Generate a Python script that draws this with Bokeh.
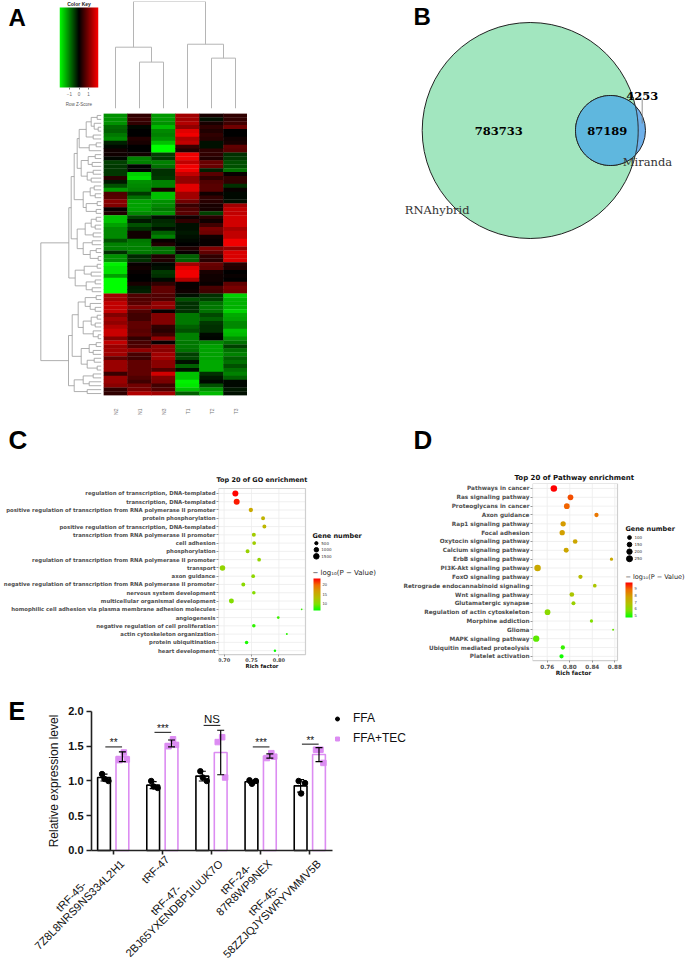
import math
import numpy as np
from bokeh.plotting import figure
from bokeh.layouts import row, column
from bokeh.models import (Range1d, FixedTicker, LinearColorMapper, ColorBar, Spacer, AllLabels,
                          ColumnDataSource, Legend, LegendItem)
from bokeh.core.properties import value
from bokeh.transform import linear_cmap
from bokeh.embed import file_html
from bokeh.resources import INLINE

# ---------- Panel A data
heat_cols = ["N2", "N1", "N3", "T1", "T2", "T3"]
N2 = [-.9,-.9,-.9,-.65,-.6,-.75,-.85,-.2,-.05,.1,.1,-.05,-.4,-.35,-.35,-.35,.25,-.15,-.5,-.95,.5,.55,.85,.8,
      .05,.2,-1.2,-1.2,-1.0,-.85,-.85,-.85,-.5,-.8,-.8,-.3,-.9,-.9,-1.5,-1.4,-1.4,-1.0,-1.6,-1.6,-1.6,-1.6,
      1.0,1.0,1.2,1.2,1.2,.8,1.0,.9,1.1,1.25,1.25,.8,1.2,.95,1.0,1.0,.6,.95,.95,.95,.35,.95,.95,.85,.3,.3]
N1 = [.3,.35,.3,-.05,0,0,.2,.15,0,0,.1,-.8,-.8,-.03,-.03,-1.3,-1.4,-.9,-.85,-.8,-.35,-.7,-1.0,-1.0,
      -1.0,-.85,-.4,-.15,-.5,-.3,.1,.1,-.75,-.8,-.8,-.75,-.25,-.3,.05,.1,.05,0,0,.15,-.15,-.2,
      .5,.5,.55,.8,.5,.4,.4,.6,.6,.55,.6,.3,.45,.5,.9,.45,.4,.6,.6,.6,.6,.5,.4,.7,.75,1.1]
N3 = [-.95,-.95,-.9,-1.15,-.85,-.8,-.9,-1.2,-1.6,-1.6,-.4,-.35,-.8,-.7,-.3,-.3,-.35,-.8,-.8,.15,-1.2,-1.2,-.9,-.85,
      -.75,-.9,-.1,-.25,-.3,-.1,-.6,-.8,.05,.2,-.7,-.7,.2,.2,-.05,-.1,-.35,-.3,-.05,.3,.6,.6,
      .5,.5,.9,.9,.05,.8,.8,.8,.3,.25,.4,.9,.05,.85,.85,1.0,1.0,.85,.85,.5,1.3,.8,.75,.4,.5,1.0]
T1 = [1.0,1.0,1.1,.9,1.4,1.5,1.1,1.2,.35,.2,1.5,1.5,1.2,1.5,1.5,1.2,.9,.9,1.4,1.4,1.0,1.0,.7,.35,
      .5,.55,.1,.3,-.1,-.1,-.15,-.1,-.05,0,.2,.05,-.6,-.6,1.0,1.4,1.5,1.5,1.1,.05,.05,.1,
      -.1,-.5,-.3,-.3,-.3,-.75,-.75,-.75,-.6,-.5,-.8,-.8,-.75,-.75,-.7,-.4,-.45,-.1,-.6,-.1,-1.2,-1.2,-1.5,-1.45,-1.2,-.6]
T2 = [.15,-.1,.15,.3,.2,.3,.25,-.1,-.1,.3,.3,.2,.65,.65,-.2,.55,.3,.5,.55,.55,.1,.3,.25,.15,
      .15,-.4,.25,.1,.4,.75,.7,.1,.05,.05,.8,.6,.3,.25,.65,.6,.15,.1,.1,.05,.45,.4,
      -.3,-.4,-.7,-.75,-.7,-.45,-.6,-.35,-.3,-.3,-.05,-.02,-.85,-1.0,-1.0,-1.0,-1.0,-1.05,-1.05,-1.05,-.3,-.15,-.05,-.5,-.9,-1.15]
T3 = [.3,.3,.4,.7,0,0,.1,.15,.6,.55,-.3,-.35,-.5,-.5,-.7,.05,.3,.3,-.3,.05,-.05,-.05,-.1,1.0,
      1.2,1.2,1.3,1.3,1.3,1.05,1.2,1.2,1.5,1.5,.9,1.35,1.35,1.35,.25,.2,0,.05,0,.6,.75,.7,
      -1.3,-1.1,-1.1,-1.1,-1.3,-1.05,-1.0,-.85,-.85,-1.2,-1.15,-.9,-.7,-.4,-.7,-.8,-.6,-.7,-.5,-.7,-.8,-.6,-.05,-.05,-.15,-.1]
heat_matrix = [N2, N1, N3, T1, T2, T3]
col_tree = [107.7, [61.7, 0, [46.7, 0, 0]], [64.7, 0, [50.7, 0, 0]]]
A11a = [22,[15,[10,[4,0,0],[7,0,[3,0,0]]],[8,0,0]],[12,[5,0,0],0]]
A11b = [20,[13,[6,0,0],[9,0,0]],[14,[8,0,0],[10,0,0]]]
A11c = [18,[11,[7,0,0],[6,0,0]],[15,[4,0,0],[5,0,0]]]
A12 = [24,[16,[10,[5,0,0],[6,0,0]],[8,0,0]],[18,[9,0,0],[11,[5,0,0],[3,0,0]]]]
A2 = [26,[17,[4,0,0],[10,0,0]],[15,[6,0,0],[9,0,0]]]
B1a = [23,[16,[5,0,0],[11,0,[6,0,0]]],[18,[10,[4,0,0],[6,0,0]],[8,0,[3,0,0]]]]
B1b = [20,[12,[5,0,0],[8,0,0]],[14,[7,0,0],[4,0,0]]]
B2 = [27,[18,[8,0,0],[12,0,0]],[14,0,0]]
row_tree = [60.4, [32.4, [30, [27, [24, A11a, A11b], A11c], A12], A2], [32.7, [29, B1a, B1b], B2]]

# ---------- Panel B data
venn_sizes = {"RNAhybrid": 783733, "both": 87189, "Miranda": 4253}

# ---------- Panel C data
go_terms = ["regulation of transcription, DNA-templated", "transcription, DNA-templated",
            "positive regulation of transcription from RNA polymerase II promoter", "protein phosphorylation",
            "positive regulation of transcription, DNA-templated", "transcription from RNA polymerase II promoter",
            "cell adhesion", "phosphorylation", "regulation of transcription from RNA polymerase II promoter",
            "transport", "axon guidance", "negative regulation of transcription from RNA polymerase II promoter",
            "nervous system development", "multicellular organismal development",
            "homophilic cell adhesion via plasma membrane adhesion molecules", "angiogenesis",
            "negative regulation of cell proliferation", "actin cytoskeleton organization",
            "protein ubiquitination", "heart development"]
go_rich = [.7205,.7229,.7488,.7711,.7735,.7542,.7548,.7428,.7639,.697,.753,.735,.7542,.7133,.8416,.7988,.7542,.8145,.741,.7928]
go_genes = [1760,1760,900,780,780,780,700,780,670,1480,670,780,600,1220,140,360,600,195,600,300]
go_logp = [23.2,22.5,15.5,14.5,14.2,12,11.8,11.3,11,10.9,10.7,10.5,10.2,10,7.8,8,7.6,7.4,7,6.5]
go_legend_genes = [500, 1000, 1500]
go_legend_ticks = [20, 15, 10]

# ---------- Panel D data
kegg_terms = ["Pathways in cancer", "Ras signaling pathway", "Proteoglycans in cancer", "Axon guidance",
              "Rap1 signaling pathway", "Focal adhesion", "Oxytocin signaling pathway", "Calcium signaling pathway",
              "ErbB signaling pathway", "PI3K-Akt signaling pathway", "FoxO signaling pathway",
              "Retrograde endocannabinoid signaling", "Wnt signaling pathway", "Glutamatergic synapse",
              "Regulation of actin cytoskeleton", "Morphine addiction", "Glioma", "MAPK signaling pathway",
              "Ubiquitin mediated proteolysis", "Platelet activation"]
kegg_rich = [.7718,.8013,.7948,.8474,.7883,.7866,.8096,.7937,.8740,.7429,.8190,.8444,.8037,.8066,.7606,.8385,.8769,.7405,.7877,.7854]
kegg_genes = [293,225,225,128,195,195,153,173,75,293,128,95,153,111,225,75,28,275,128,128]
kegg_logp = [9.84,9.1,8.9,8.6,7.9,7.8,7.6,7.6,7.5,7.5,6.9,6.6,6.6,6.3,6.0,5.8,5.6,5.5,5.2,4.9]
kegg_legend_genes = [100, 150, 200, 250]
kegg_legend_ticks = [9, 8, 7, 6, 5]

# ---------- Panel E data
e_labels = [["tRF-45-", "7Z8L8NRS9NS334L2H1"], ["tRF-47"], ["tRF-47-", "2BJ65YXENDBP1IUUK7O"],
            ["tRF-24-", "87R8WP9NEX"], ["tRF-45-", "58ZZJQJYSWRYVMMV5B"]]
ffa_mean = [1.05, .94, 1.07, .99, .93]
tec_mean = [1.35, 1.54, 1.41, 1.36, 1.38]
ffa_sd = [.05, .05, .07, .02, .09]
tec_sd = [.07, .05, .32, .03, .10]
ffa_pts = [[1.1,1.0,1.03],[1.0,.9,.92],[1.14,1.0,1.05],[1.01,1.0,.96],[1.0,.97,.82]]
tec_pts = [[1.41,1.3,1.31],[1.6,1.5,1.52],[1.63,1.56,1.05],[1.4,1.33,1.35],[1.45,1.45,1.26]]
sig_marks = ["**", "***", "NS", "***", "**"]
sig_heights = [1.49, 1.70, 1.80, 1.49, 1.53]

BLACK = "#000000"
LILAC = "#dc8cf2"


def blank(w, h, xr, yr, left=0, right=0, top=0, bottom=0):
    p = figure(width=w, height=h, x_range=xr, y_range=yr, output_backend="svg", toolbar_location=None,
               min_border_left=left, min_border_right=right, min_border_top=top, min_border_bottom=bottom,
               outline_line_color=None, background_fill_color="white")
    p.grid.visible = False
    p.xaxis.visible = False
    p.yaxis.visible = False
    return p


def letter(p, txt, x, y, size="24px"):
    p.text([x], [y], [txt], y_offset=-10, text_font=value("Liberation Sans"), text_font_style="bold",
           text_font_size=size, text_baseline="alphabetic", text_color="#000000")


def dendro(tree):
    xs, ys, leaf = [], [], [0]
    def walk(node):
        if node == 0:
            leaf[0] += 1
            return leaf[0] - .5, 0
        h, a, b = node
        pa, ha = walk(a)
        pb, hb = walk(b)
        xs.append([pa, pa, pb, pb])
        ys.append([ha, h, h, hb])
        return (pa + pb) / 2, h
    walk(tree)
    return xs, ys, leaf[0]


def ramp(anchors, n=256):
    rgb = np.array([[int(c[i:i + 2], 16) for i in (1, 3, 5)] for c in anchors], float)
    t = np.linspace(0, len(anchors) - 1, n)
    out = np.stack([np.interp(t, np.arange(len(anchors)), rgb[:, k]) for k in range(3)], 1)
    return ["#%02x%02x%02x" % tuple(int(round(v)) for v in c) for c in out]


# ---------- Panel A  (a row's figures share one frame height, 1..108 px from the top)
GBR = ramp(["#00ff00", "#000000", "#ff0000"], 255)
TOP_H, TOP_T, TOP_B = 111, 1, 3
letter_a = blank(59, TOP_H, Range1d(0, 59), Range1d(108, 1), top=TOP_T, bottom=TOP_B)
letter(letter_a, "A", 8, 27)
key = blank(44, TOP_H, Range1d(-2.03, 2.03), Range1d(108, 1), right=5, top=TOP_T, bottom=TOP_B)
key.xaxis.visible = True
key.image(image=[np.linspace(-2.03, 2.03, 255).reshape(1, -1)], x=-2.03, y=7, dw=4.06, dh=80,
          color_mapper=LinearColorMapper(palette=GBR, low=-2.03, high=2.03))
key.text([0], [3.5], ["Color Key"], text_align="center", text_baseline="middle", text_font=value("Liberation Sans"),
         text_font_size="5px", text_font_style="bold", text_color="#222222")
ax = key.xaxis[0]
ax.fixed_location = 87
ax.ticker = FixedTicker(ticks=[-1, 0, 1])
ax.axis_line_color = None
ax.major_tick_line_color = "#777777"
ax.major_tick_out = 2
ax.major_tick_in = 0
ax.minor_tick_line_color = None
ax.major_label_text_font_size = "4.5px"
ax.major_label_text_color = "#666666"
ax.major_label_standoff = 2
ax.axis_label = "Row Z-Score"
ax.axis_label_text_font_size = "4.5px"
ax.axis_label_text_font_style = "normal"
ax.axis_label_text_color = "#555555"
ax.axis_label_standoff = 3

cx, cy, _ = dendro(col_tree)
top_dendro = blank(144, TOP_H, Range1d(0, 6), Range1d(0, 107.7), top=TOP_T, bottom=TOP_B)
top_dendro.multi_line(cx, cy, line_color="#b5b5b5", line_width=1)

rx, ry, nleaf = dendro(row_tree)
if nleaf != len(N2):
    raise ValueError(f"leaves {nleaf} vs rows {len(N2)}")
ROW2_H = 309
left_dendro = blank(103, ROW2_H, Range1d(62.7, -2.3), Range1d(72, 0), left=38, top=2, bottom=25)
left_dendro.multi_line(ry, rx, line_color="#9a9a9a", line_width=.8)

heat = blank(144, ROW2_H, Range1d(0, 6), Range1d(72, 0), top=2, bottom=25)
hx, hy, hz = [], [], []
for j, colvals in enumerate(heat_matrix):
    for i, z in enumerate(colvals):
        hx.append(j + .5); hy.append(i + .5); hz.append(z)
hsrc = ColumnDataSource(dict(x=hx, y=hy, z=hz))
heat.rect(x="x", y="y", width=1.02, height=1.08, source=hsrc,
          fill_color=linear_cmap("z", GBR, -1.6, 1.6), line_color=None)
heat.xaxis.visible = True
ax = heat.xaxis[0]
ax.ticker = FixedTicker(ticks=[j + .5 for j in range(6)])
ax.major_label_overrides = {j + .5: n for j, n in enumerate(heat_cols)}
ax.axis_line_color = None
ax.major_tick_line_color = None
ax.minor_tick_line_color = None
ax.major_label_orientation = math.pi / 2
ax.major_label_text_font_size = "5px"
ax.major_label_text_color = "#777777"
ax.major_label_standoff = 7

panel_a = column(row(letter_a, key, top_dendro, Spacer(width=141, height=TOP_H)),
                 row(left_dendro, heat, Spacer(width=141, height=ROW2_H)))

# ---------- Panel B  (1 data unit = 1 px; the radii follow the set sizes)
venn = blank(297, 420, Range1d(0, 297), Range1d(8, 428))
R_big = 108.0
area_big = venn_sizes["RNAhybrid"] + venn_sizes["both"]
area_small = venn_sizes["both"] + venn_sizes["Miranda"]
R_small = R_big * math.sqrt(area_small / area_big)
bx, by = 141.7, 298.0
sx, sy = 222.0, 298.0
venn.circle(x=[bx], y=[by], radius=R_big, fill_color="#a2e6bf", line_color="#222222", line_width=1)
venn.circle(x=[sx], y=[sy], radius=R_small, fill_color="#6fb0ea", line_color="#222222", line_width=1)
d = sx - bx
ix = (d * d - R_small ** 2 + R_big ** 2) / (2 * d)
ih = math.sqrt(R_big ** 2 - ix ** 2)
a_big = math.atan2(ih, ix)
a_small = math.atan2(ih, ix - d)
t1 = np.linspace(-a_big, a_big, 60)
t2 = np.linspace(a_small, 2 * math.pi - a_small, 90)
lx = np.r_[bx + R_big * np.cos(t1), sx + R_small * np.cos(t2)]
ly = np.r_[by + R_big * np.sin(t1), sy + R_small * np.sin(t2)]
venn.patch(lx, ly, fill_color="#5fb7de", line_color="#222222", line_width=1)
venn.line([253.7, 253.7], [329, 305], line_color="#777777", line_width=.8)
for txt, x, y, sty in [("783733", 110.3, 298, "bold"), ("87189", 218.7, 298, "bold"), ("4253", 253.7, 333, "bold"),
                       ("Miranda", 259, 266.3, "normal"), ("RNAhybrid", 48.7, 219, "normal")]:
    venn.text(x=[x], y=[y], text=[txt], text_font=value("DejaVu Serif"), text_font_style=sty,
              text_font_size="11.5px", text_align="center", text_baseline="middle",
              text_color="#000000" if sty == "bold" else "#333333")
letter(venn, "B", 25, 428 - 26)

# ---------- strip above panels C and D, holding their letters
STRIP_TOP, STRIP_BOTTOM = 420, 470
strip = blank(685, STRIP_BOTTOM - STRIP_TOP, Range1d(0, 685), Range1d(STRIP_BOTTOM, STRIP_TOP))
letter(strip, "C", 8, 449, "26px")
letter(strip, "D", 413, 449, "26px")

# ---------- Panels C and D
HEAT_P = ramp(["#00ff00", "#7fe000", "#b4c000", "#d2a000", "#f06c00", "#ff0000"])
FRAME_TOP, FRAME_BOTTOM = 482, 682   # both figures of the row share this frame


def bubble(terms, rich, genes, logp, size_k, lo, hi, fig_left, fig_right, frame_left, panel_right, panel_top,
           panel_bottom, x_anchor, px_anchor, x_per_px, y_first_px, y_step, xticks, ticklabels, title, title_left,
           title_standoff, cat_px, tick_px, title_px, axis_px, axis_cx, axis_cy, legend_genes, legend_ticks,
           lg_x, lg_title_y, lg_first_y, lg_step, lg_log_y, lg_title_px, lg_log_px, bar_top, bar_bottom):
    x_of = lambda px: x_anchor + (px - px_anchor) * x_per_px
    y_of = lambda py: 1 + (py - y_first_px) / y_step
    w = fig_right - fig_left
    p = figure(width=w, height=690 - STRIP_BOTTOM, x_range=Range1d(x_of(frame_left), x_of(fig_right)),
               y_range=Range1d(y_of(FRAME_BOTTOM), y_of(FRAME_TOP)), output_backend="svg", toolbar_location=None,
               min_border_left=frame_left - fig_left, min_border_right=0, min_border_top=FRAME_TOP - STRIP_BOTTOM,
               min_border_bottom=690 - FRAME_BOTTOM, outline_line_color=None)
    p.grid.visible = False
    p.title.text = title
    p.title.align = "left"
    p.title.offset = title_left - frame_left
    p.title.text_font = "DejaVu Sans"
    p.title.text_font_size = title_px
    p.title.text_font_style = "bold"
    p.title.text_color = "#111111"
    p.title.standoff = title_standoff
    ys = list(range(1, 21))
    xl, xr = x_of(frame_left), x_of(panel_right)
    yb, yt = y_of(panel_bottom), y_of(panel_top)
    p.segment(xticks, [yb] * len(xticks), xticks, [yt] * len(xticks), line_color="#ececec", line_width=.8)
    p.segment([xl] * 20, ys, [xr] * 20, ys, line_color="#ececec", line_width=.8)
    p.quad(left=[xl], right=[xr], top=[yt], bottom=[yb], fill_color=None, line_color="#cfcfcf", line_width=1.2)
    src = ColumnDataSource(dict(x=rich, y=ys, size=[size_k * math.sqrt(g) for g in genes], p=logp))
    p.scatter("x", "y", size="size", source=src, line_color=None, fill_color=linear_cmap("p", HEAT_P, lo, hi))
    a = p.yaxis[0]
    a.bounds = (yb, yt)
    a.ticker = FixedTicker(ticks=ys)
    a.major_label_overrides = {y: t for y, t in zip(ys, terms)}
    a.major_label_text_font = "DejaVu Sans"
    a.major_label_text_font_style = "bold"
    a.major_label_text_font_size = cat_px
    a.major_label_text_color = "#4d4d4d"
    a.major_label_standoff = 1
    a.axis_line_color = None
    a.major_tick_line_color = "#999999"
    a.major_tick_out = 2
    a.major_tick_in = 0
    a.minor_tick_line_color = None
    b = p.xaxis[0]
    b.fixed_location = yb
    b.bounds = (xl, xr)
    b.ticker = FixedTicker(ticks=xticks)
    b.major_label_overrides = {t: l for t, l in zip(xticks, ticklabels)}
    b.major_label_text_font = "DejaVu Sans"
    b.major_label_text_font_style = "bold"
    b.major_label_text_font_size = tick_px
    b.major_label_text_color = "#4d4d4d"
    b.major_label_standoff = 1
    b.axis_line_color = None
    b.major_tick_line_color = "#999999"
    b.major_tick_out = 2
    b.major_tick_in = 0
    b.minor_tick_line_color = None
    p.text([x_of(axis_cx)], [y_of(axis_cy)], ["Rich factor"], text_align="center", text_baseline="middle",
           text_font=value("DejaVu Sans"), text_font_style="bold", text_font_size=axis_px, text_color="#111111")
    # legends inside the wide frame
    x0 = x_of(lg_x)
    p.text([x0], [y_of(lg_title_y)], ["Gene number"], text_font=value("DejaVu Sans"), text_font_style="bold",
           text_font_size=lg_title_px, text_baseline="middle", text_color="#111111")
    ypos = [y_of(lg_first_y + i * lg_step) for i in range(len(legend_genes))]
    p.scatter([x_of(lg_x + 4)] * len(ypos), ypos, size=[size_k * math.sqrt(g) for g in legend_genes], color="#000000")
    p.text([x_of(lg_x + 9)] * len(ypos), ypos, [str(g) for g in legend_genes], text_font=value("DejaVu Sans"),
           text_font_size="4px", text_baseline="middle", text_color="#333333")
    p.text([x0], [y_of(lg_log_y)], ["\u2212 log\u2081\u2080(P \u2212 Value)"], text_font=value("DejaVu Sans"),
           text_font_size=lg_log_px, text_baseline="middle", text_color="#222222")
    cb = ColorBar(color_mapper=LinearColorMapper(palette=HEAT_P, low=lo, high=hi),
                  ticker=FixedTicker(ticks=legend_ticks), location=(lg_x - frame_left, FRAME_BOTTOM - bar_bottom),
                  width=7, height=bar_bottom - bar_top, padding=0, margin=0, major_tick_line_color=None,
                  minor_tick_line_color=None, bar_line_color=None, major_label_text_font_size="4px",
                  major_label_text_color="#333333", label_standoff=2, background_fill_color=None,
                  border_line_color=None, major_label_policy=AllLabels())
    p.add_layout(cb)
    return p


panel_c = bubble(go_terms, go_rich, go_genes, go_logp, .143, 6.3, 23.3, 0, 391, 216, 304, 487, 654,
                 .70, 221.7, .05 / 27.7, 492, 8.316, [.70, .75, .80], ["0.70", "0.75", "0.80"],
                 "Top 20 of GO enrichment", 214, 0, "5.35px", "5px", "6.5px", "5.4px", 260, 665,
                 go_legend_genes, go_legend_ticks, 311, 534.7, 542, 6.6, 571.7, "6.5px", "7px", 578, 610)
panel_d = bubble(kegg_terms, kegg_rich, kegg_genes, kegg_logp, .38, 4.75, 9.84, 391, 685, 532, 617, 482, 660,
                 .76, 546.7, .04 / 22.55, 487, 8.88, [.76, .80, .84, .88], ["0.76", "0.80", "0.84", "0.88"],
                 "Top 20 of Pathway enrichment", 514, 3, "5.75px", "5.7px", "7px", "5.8px", 573, 672,
                 kegg_legend_genes, kegg_legend_ticks, 625, 528, 536.3, 7.1, 576, "6.5px", "6.5px", 582, 617)

# ---------- Panel E
px_per_group = 49.15
px_per_unit = 69.5
x_of_e = lambda px: 1 + (px - 112.7) / px_per_group
x_axis_pos = x_of_e(91)
x_axis_end = x_of_e(332)
OFF, BW = .187, .26
e = figure(width=685, height=273, x_range=Range1d(x_of_e(0), x_of_e(685)), y_range=Range1d(-113 / px_per_unit, 2.158),
           output_backend="svg", toolbar_location=None, min_border_left=0, min_border_right=0, min_border_top=10,
           min_border_bottom=0, outline_line_color=None)
e.grid.visible = False
letter(e, "E", x_of_e(8), (850 - 721) / px_per_unit, "25px")
xc = list(range(1, 6))
x_f = [x - OFF for x in xc]
x_t = [x + OFF for x in xc]
e.vbar(x=x_f, top=ffa_mean, width=BW, fill_color="white", line_color=BLACK, line_width=1.6)
e.vbar(x=x_t, top=tec_mean, width=BW, fill_color="white", line_color=LILAC, line_width=1.6)
jit = [-.04, .09, .01]
pfx = [x + j for x in x_f for j in jit]
pfy = [v for g in ffa_pts for v in g]
ptx = [x + j for x in x_t for j in (.03, -.06, .09)]
pty = [v for g in tec_pts for v in g]
r_t = e.scatter(ptx, pty, marker="square", size=5.5, color=LILAC)
r_f = e.scatter(pfx, pfy, marker="circle", size=5.5, color=BLACK)
for xs_, m, s in [(x_f, ffa_mean, ffa_sd), (x_t, tec_mean, tec_sd)]:
    lo = [a - b for a, b in zip(m, s)]
    hi = [a + b for a, b in zip(m, s)]
    e.segment(xs_, lo, xs_, hi, line_color=BLACK, line_width=1.2)
    e.scatter(xs_ + xs_, lo + hi, marker="dash", size=7, line_color=BLACK, line_width=1.2)
e.segment([x - .16 for x in xc], sig_heights, [x + .18 for x in xc], sig_heights, line_color="#111111", line_width=1)
stars = [(x, h, m) for x, h, m in zip(xc, sig_heights, sig_marks) if m != "NS"]
e.text([s[0] + .01 for s in stars], [s[1] - .02 for s in stars], [s[2] for s in stars], text_align="center",
       text_baseline="bottom", text_font=value("Liberation Sans"), text_font_size="10px", text_color="#111111")
ns = [(x, h, m) for x, h, m in zip(xc, sig_heights, sig_marks) if m == "NS"]
e.text([s[0] + .01 for s in ns], [s[1] + .005 for s in ns], [s[2] for s in ns], text_align="center",
       text_baseline="bottom", text_font=value("Liberation Sans"), text_font_size="11.5px", text_color="#111111")
ya = e.yaxis[0]
ya.fixed_location = x_axis_pos
ya.bounds = (0, 2)
ya.ticker = FixedTicker(ticks=[0, .5, 1, 1.5, 2])
ya.major_label_overrides = {0: "0.0", .5: "0.5", 1: "1.0", 1.5: "1.5", 2: "2.0"}
ya.major_label_text_font = "Liberation Sans"
ya.major_label_text_font_style = "bold"
ya.major_label_text_font_size = "11px"
ya.major_label_text_color = "#111111"
ya.major_label_standoff = 3
ya.axis_line_width = 1.6
ya.axis_line_color = "#222222"
ya.major_tick_line_width = 1.6
ya.major_tick_line_color = "#222222"
ya.major_tick_out = 5
ya.major_tick_in = 0
ya.minor_tick_line_color = None
ya.axis_label = "Relative expression level"
ya.axis_label_text_font = "Liberation Sans"
ya.axis_label_text_font_style = "normal"
ya.axis_label_text_font_size = "12px"
ya.axis_label_text_color = "#111111"
ya.axis_label_standoff = 4
xa = e.xaxis[0]
xa.fixed_location = 0
xa.bounds = (x_axis_pos, x_axis_end)
xa.ticker = FixedTicker(ticks=xc)
xa.major_label_overrides = {x: " " for x in xc}
xa.major_label_text_font_size = "2px"
xa.axis_line_width = 1.6
xa.axis_line_color = "#222222"
xa.major_tick_line_width = 1.6
xa.major_tick_line_color = "#222222"
xa.major_tick_out = 4
xa.major_tick_in = 0
xa.minor_tick_line_color = None

LABEL_PX = 11.1
WIDE = {"W": .944, "M": .833, "N": .722, "R": .722, "H": .722, "D": .722, "U": .722, "K": .667, "S": .667, "B": .667,
        "X": .667, "Y": .667, "V": .667, "E": .667, "P": .667, "O": .778, "Q": .778, "Z": .611, "L": .556, "J": .5,
        "I": .278, "F": .611, "t": .278, "-": .333}
def text_width(s):
    return sum(WIDE.get(c, .556) for c in s) * LABEL_PX

S2 = math.sqrt(.5)
for x, lines in zip(xc, e_labels):
    L = max(text_width(s) for s in lines)
    cxs = 5 - S2 * L / 2            # centre of the block along the 45-degree text direction
    cys = 7 + S2 * L / 2
    shifts = [0] if len(lines) == 1 else [-4.2, 4.2]
    for line, sh in zip(lines, shifts):
        e.text([x], [0], [line], x_offset=cxs + sh, y_offset=cys + sh, angle=math.pi / 4, text_align="center",
               text_baseline="middle", text_font=value("Liberation Sans"), text_font_size=f"{LABEL_PX}px",
               text_color="#111111")
leg = Legend(items=[LegendItem(label="FFA", renderers=[r_f]), LegendItem(label="FFA+TEC", renderers=[r_t])],
             location=(332, 218), orientation="vertical", border_line_color=None, background_fill_color=None,
             padding=0, margin=0, spacing=6, glyph_width=10, glyph_height=13, label_height=13, label_standoff=11,
             label_text_font="Liberation Sans", label_text_font_size="12px", label_text_color="#111111")
e.add_layout(leg)

page = column(row(panel_a, venn), strip, row(panel_c, panel_d), e)
open("out.html", "w").write(file_html(page, INLINE))
